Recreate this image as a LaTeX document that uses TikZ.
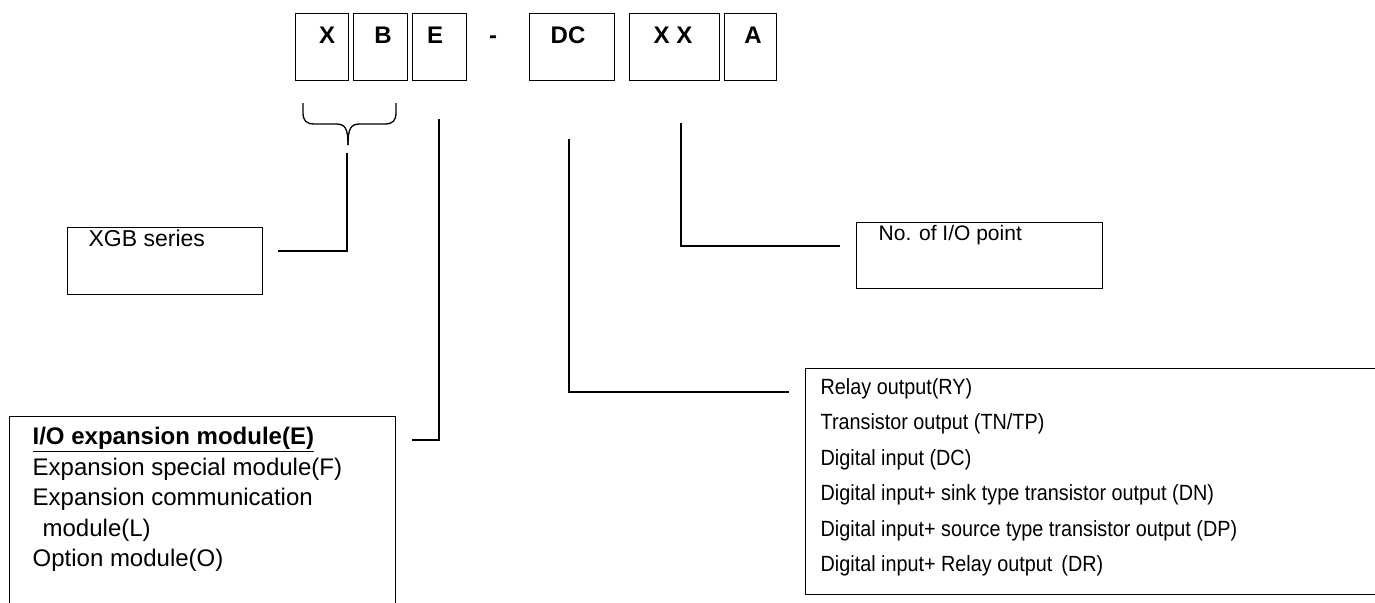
\documentclass[tikz,border=0pt]{standalone}
\usepackage{fontspec}
\setmainfont{Liberation Sans}
\newfontfamily\narrowfont[FakeStretch=0.9]{Liberation Sans}
\begin{document}
\begin{tikzpicture}[x=1pt,y=-1pt,line width=1.3pt,
  box/.style={draw,line width=1.3pt,inner sep=0,anchor=north west},
  toplbl/.style={font=\fontsize{24}{28}\selectfont\bfseries,inner sep=0,anchor=base},
  lefttxt/.style={font=\fontsize{24}{29}\selectfont,inner sep=0,anchor=base west},
  righttxt/.style={font=\narrowfont\fontsize{22}{26}\selectfont,inner sep=0,anchor=base west},
  plaintxt/.style={inner sep=0,anchor=base west},
  conn/.style={draw,line width=1.3pt}]
\clip (0,0) rectangle (1375,602);
\fill[white] (0,0) rectangle (1375,602);
% top code boxes
\node[box,minimum width=53pt,minimum height=67pt] (bX) at (295,13) {};
\node[box,minimum width=54pt,minimum height=67pt] (bB) at (353,13) {};
\node[box,minimum width=54pt,minimum height=67pt] (bE) at (412,13) {};
\node[box,minimum width=85pt,minimum height=67pt] (bDC) at (529,13) {};
\node[box,minimum width=90pt,minimum height=67pt] (bXX) at (629,13) {};
\node[box,minimum width=52pt,minimum height=67pt] (bA) at (724,13) {};
\node[toplbl] (tX) at (327,44) {X};
\node[toplbl] (tB) at (383,44) {B};
\node[toplbl] (tE) at (435,44) {E};
\node[toplbl] (tdash) at (493,44) {-};
\node[toplbl] (tDC) at (568,44) {DC};
\node[toplbl] (tXX) at (673,44) {X X};
\node[toplbl] (tA) at (753,44) {A};
% brace under X B
\draw[line width=1.3pt] (303,103) -- (303,112) .. controls (303,121) and (306,124) .. (315,124)
  -- (336,124) .. controls (345,124) and (348,128) .. (348,145);
\draw[line width=1.3pt] (396,103) -- (396,112) .. controls (396,121) and (393,124) .. (384,124)
  -- (360,124) .. controls (351,124) and (348,128) .. (348,145);
% XGB series box
\node[box,minimum width=195pt,minimum height=67pt] (xgb) at (67,227) {};
\node[plaintxt,font=\fontsize{23}{27}\selectfont] (xgbt) at (88,246) {XGB series};
\coordinate (brtip) at (347,153);
\coordinate (brk) at (347,251);
\coordinate (brend) at (278,251);
\draw[conn] (brtip) -- (brk) -- (brend);
% No. of I/O point box
\node[box,minimum width=246pt,minimum height=66pt] (nio) at (856,222) {};
\node[plaintxt,font=\fontsize{21}{25}\selectfont] (niot) at (878,240.5) {No. of I/O point};
\coordinate (xxtop) at (681,123);
\coordinate (xxk) at (681,246);
\coordinate (xxend) at (840,246);
\draw[conn] (xxtop) -- (xxk) -- (xxend);
% Left box
\node[box,minimum width=386pt,minimum height=220pt] (iob) at (9,416) {};
\node[lefttxt] (l1) at (32,444.5) {\underline{\textbf{I/O expansion module(E)}}};
\node[lefttxt] (l2) at (32,475) {Expansion special module(F)};
\node[lefttxt] (l3) at (32,505.5) {Expansion communication};
\node[lefttxt] (l4) at (42,536) {module(L)};
\node[lefttxt] (l5) at (32,566.5) {Option module(O)};
\coordinate (etop) at (439,119);
\coordinate (ek) at (439,440);
\coordinate (eend) at (412,440);
\draw[conn] (etop) -- (ek) -- (eend);
% Right box
\node[box,minimum width=600pt,minimum height=226pt] (rb) at (805,368) {};
\node[righttxt] (r1) at (820,394) {Relay output(RY)};
\node[righttxt] (r2) at (820,429.5) {Transistor output (TN/TP)};
\node[righttxt] (r3) at (820,465) {Digital input (DC)};
\node[righttxt] (r4) at (820,500.5) {Digital input+ sink type transistor output (DN)};
\node[righttxt] (r5) at (820,536) {Digital input+ source type transistor output (DP)};
\node[righttxt] (r6) at (820,571.5) {Digital input+ Relay output \,(DR)};
\coordinate (dctop) at (569,139);
\coordinate (dck) at (569,392);
\coordinate (dcend) at (789,392);
\draw[conn] (dctop) -- (dck) -- (dcend);
\end{tikzpicture}
\end{document}
